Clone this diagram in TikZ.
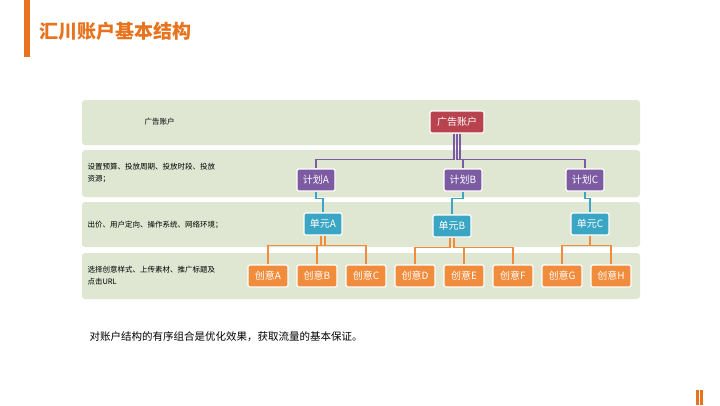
\documentclass[tikz,border=0pt]{standalone}
\usepackage{fontspec}
\setmainfont{Noto Sans CJK SC}
\definecolor{hcOrange}{HTML}{E8731E}
\definecolor{hcBand}{HTML}{DFE7D2}
\definecolor{hcRed}{HTML}{B8434E}
\definecolor{hcPurple}{HTML}{7C5BA3}
\definecolor{hcTeal}{HTML}{3AA6C4}
\definecolor{hcIdea}{HTML}{F08C3C}
\tikzset{
  box/.style={draw=white, line width=1.2pt, rounded corners=1.5pt, text=white,
    font=\fontsize{10}{11}\selectfont, minimum height=22pt, inner xsep=2pt},
  band/.style={fill=hcBand, rounded corners=3pt},
  lab/.style={anchor=west, font=\fontsize{7.5}{12}\selectfont, align=left},
  link/.style={line width=1.5pt}
}
\begin{document}
\begin{tikzpicture}[x=1pt,y=-1pt]
\useasboundingbox (0,0) rectangle (720,405);

% title
\fill[hcOrange] (24,0) rectangle (30,57);
\node[anchor=west, text=hcOrange, font=\fontsize{19}{22}\selectfont\bfseries] (title) at (36,31) {汇川账户基本结构};
\fill[hcOrange] (696,390) rectangle (698.5,405);
\fill[hcOrange] (700,390) rectangle (702.5,405);

% bands
\fill[band] (82,100) rectangle (640,145);
\fill[band] (82,150) rectangle (640,197);
\fill[band] (82,202) rectangle (640,247);
\fill[band] (82,253) rectangle (640,299);

\node[lab] (l1) at (141,122) {广告账户};
\node[lab] (l2) at (84,173) {设置预算、投放周期、投放时段、投放\\资源；};
\node[lab] (l3) at (84,225) {出价、用户定向、操作系统、网络环境；};
\node[lab] (l4) at (84,276) {选择创意样式、上传素材、推广标题及\\点击URL};

% nodes
\node[box, fill=hcRed, minimum width=54pt] (ad) at (457,122) {广告账户};
\node[box, fill=hcPurple, minimum width=38pt] (pA) at (316,180) {计划A};
\node[box, fill=hcPurple, minimum width=38pt] (pB) at (463,180) {计划B};
\node[box, fill=hcPurple, minimum width=38pt] (pC) at (585,180) {计划C};
\node[box, fill=hcTeal, minimum width=38pt] (uA) at (323,224) {单元A};
\node[box, fill=hcTeal, minimum width=38pt] (uB) at (452,226) {单元B};
\node[box, fill=hcTeal, minimum width=38pt] (uC) at (590,224) {单元C};
\foreach \n/\x in {A/268,B/317,C/366,D/415,E/464,F/513,G/562,H/611}
  \node[box, fill=hcIdea, minimum width=40pt] (i\n) at (\x,276) {创意\n};

% links
\begin{scope}[link, hcPurple]
\draw (ad.south) ++(-3,0) -- ++(0,26) -| (pA.north);
\draw (ad.south) -- ++(0,26) -| (pB.north);
\draw (ad.south) ++(3,0) -- ++(0,26) -| (pC.north);
\end{scope}
\begin{scope}[link, hcTeal]
\draw (pA.south) -- ++(0,7) -| (uA.north);
\draw (pB.south) -- ++(0,7) -| (uB.north);
\draw (pC.south) -- ++(0,7) -| (uC.north);
\end{scope}
\begin{scope}[link, hcIdea]
\draw (uA.south) ++(-2,0) -- ++(0,10) -| (iA.north);
\draw (uA.south) ++(2,0) -- ++(0,10) -| (iB.north);
\draw (uA.south) ++(2,0) -- ++(0,10) -| (iC.north);
\draw (uB.south) ++(-2,0) -- ++(0,10) -| (iD.north);
\draw (uB.south) ++(2,0) -- ++(0,10) -| (iE.north);
\draw (uB.south) ++(2,0) -- ++(0,10) -| (iF.north);
\draw (uC.south) -- ++(0,10) -| (iG.north);
\draw (uC.south) -- ++(0,10) -| (iH.north);
\end{scope}

\node[anchor=west, font=\fontsize{10.5}{12}\selectfont] (note) at (86,337) {对账户结构的有序组合是优化效果，获取流量的基本保证。};
\end{tikzpicture}
\end{document}
